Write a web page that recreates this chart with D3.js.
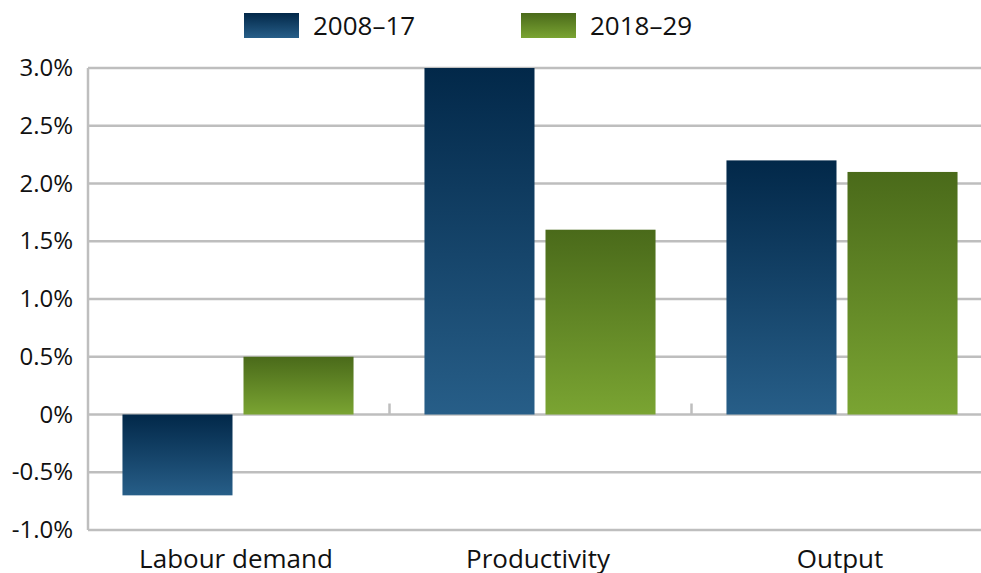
<!DOCTYPE html>
<html>
<head>
<meta charset="utf-8">
<script src="https://cdn.jsdelivr.net/npm/d3@7"></script>
<style>
  body { margin: 0; background: #fff; }
  svg { display: block; font-family: "Open Sans", sans-serif; }
</style>
</head>
<body>
<svg id="chart" width="981" height="573"></svg>
<script>
let categories = ["Labour demand", "Productivity", "Output"];
let series = ["2008–17", "2018–29"];
let values_2008_17 = [-0.7, 3.0, 2.2];
let values_2018_29 = [0.5, 1.6, 2.1];
let y_ticks = [-1.0, -0.5, 0, 0.5, 1.0, 1.5, 2.0, 2.5, 3.0];

let seriesValues = [values_2008_17, values_2018_29];
let gradients = [["#022849", "#275e88"], ["#4a6a1a", "#7aa432"]];

var svg = d3.select("#chart");

// gradients, one per series, stretched over each bar
var defs = svg.append("defs");
gradients.forEach((g, i) => {
    let lg = defs.append("linearGradient")
        .attr("id", "grad" + i)
        .attr("x1", 0).attr("y1", 0)
        .attr("x2", 0).attr("y2", 1);
    lg.append("stop").attr("offset", "0%").attr("stop-color", g[0]);
    lg.append("stop").attr("offset", "100%").attr("stop-color", g[1]);
});

var plotLeft = 88, plotTop = 68, plotBottom = 530;

var x0 = d3.scaleBand()
    .domain(categories)
    .range([87, 993])
    .paddingInner(0)
    .paddingOuter(0);

var x1 = d3.scaleBand()
    .domain(series)
    .range([0, x0.bandwidth()])
    .paddingInner(0.0909)
    .paddingOuter(0.293);

var y = d3.scaleLinear()
    .domain([-1.0, 3.0])
    .range([plotBottom, plotTop]);

// gridlines
svg.append("g")
    .selectAll("line")
    .data(y_ticks)
    .join("line")
    .attr("x1", plotLeft)
    .attr("x2", 993)
    .attr("y1", d => y(d))
    .attr("y2", d => y(d))
    .attr("stroke", "#bebebe")
    .attr("stroke-width", 2.5);

// y axis line
svg.append("line")
    .attr("x1", plotLeft).attr("x2", plotLeft)
    .attr("y1", plotTop).attr("y2", plotBottom)
    .attr("stroke", "#bebebe")
    .attr("stroke-width", 2.5);

// y tick labels
svg.append("g")
    .selectAll("text")
    .data(y_ticks)
    .join("text")
    .attr("x", 73)
    .attr("y", d => y(d) + 8)
    .attr("text-anchor", "end")
    .attr("font-size", 24)
    .attr("fill", "#111")
    .text(d => d === 0 ? "0%" : d.toFixed(1) + "%");

// small category separator ticks at zero line
svg.append("g")
    .selectAll("line")
    .data(categories.slice(1))
    .join("line")
    .attr("x1", d => x0(d) + 0.5)
    .attr("x2", d => x0(d) + 0.5)
    .attr("y1", y(0))
    .attr("y2", y(0) - 11)
    .attr("stroke", "#bebebe")
    .attr("stroke-width", 2.5);

// bars
var groups = svg.append("g")
    .selectAll("g")
    .data(categories)
    .join("g")
    .attr("transform", d => "translate(" + x0(d) + ",0)");

groups.selectAll("rect")
    .data((d, ci) => series.map((s, si) => ({ s: s, si: si, v: seriesValues[si][ci] })))
    .join("rect")
    .attr("x", d => x1(d.s))
    .attr("width", x1.bandwidth())
    .attr("y", d => y(Math.max(0, d.v)))
    .attr("height", d => Math.abs(y(d.v) - y(0)))
    .attr("fill", d => "url(#grad" + d.si + ")");

// category labels
svg.append("g")
    .selectAll("text")
    .data(categories)
    .join("text")
    .attr("x", d => x0(d) + x0.bandwidth() / 2 - 2)
    .attr("y", 568)
    .attr("text-anchor", "middle")
    .attr("font-size", 26)
    .attr("fill", "#111")
    .text(d => d);

// legend
var legendX = [244, 521];
var legend = svg.append("g")
    .selectAll("g")
    .data(series)
    .join("g")
    .attr("transform", (d, i) => "translate(" + legendX[i] + ",13)");

legend.append("rect")
    .attr("width", 55)
    .attr("height", 25)
    .attr("fill", (d, i) => "url(#grad" + i + ")");

legend.append("text")
    .attr("x", 69)
    .attr("y", 22)
    .attr("font-size", 26)
    .attr("fill", "#111")
    .text(d => d);
</script>
</body>
</html>
